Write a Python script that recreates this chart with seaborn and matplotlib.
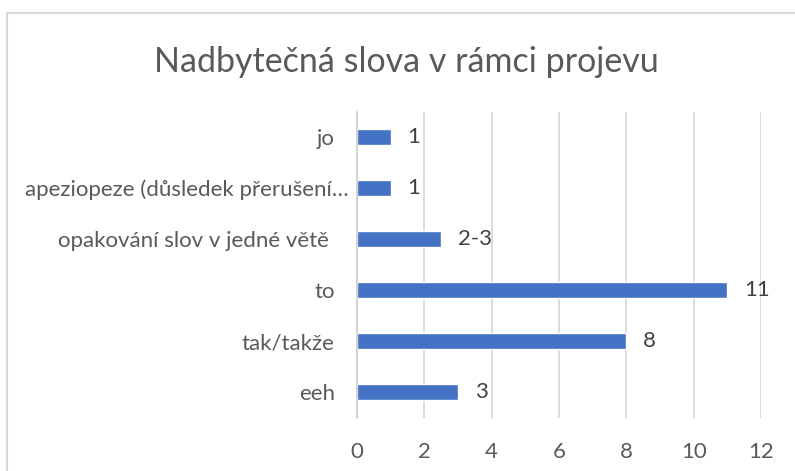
import matplotlib.pyplot as plt
import matplotlib.transforms as mtransforms
import seaborn as sns
import pandas as pd
from matplotlib.patches import Rectangle

categories = ["jo", "apeziopeze (důsledek přerušení…", "opakování slov v jedné větě ",
              "to", "tak/takže", "eeh"]
values = [1, 1, 2.5, 11, 8, 3]
value_labels = ["1", "1", "2-3", "11", "8", "3"]
xticks = [0, 2, 4, 6, 8, 10, 12]

df = pd.DataFrame({"slovo": categories, "pocet": values})

sns.set_style("white")
plt.rcParams['font.family'] = ['Lato', 'DejaVu Sans']

fig = plt.figure(figsize=(7.95, 4.71), dpi=100)
ax = fig.add_axes([357 / 795, 1 - 417.5 / 471, 404 / 795, 306 / 471])

sns.barplot(data=df, x="pocet", y="slovo", color="#4472C4", width=0.31,
            saturation=1, ax=ax)

ax.set_xlim(0, 12)
ax.set_xticks(xticks)
ax.set_xticklabels([str(t) for t in xticks])
ax.grid(axis="x", color="#d9d9d9", linewidth=1.3)
ax.set_axisbelow(True)
for s in ["top", "right", "bottom"]:
    ax.spines[s].set_visible(False)
ax.spines["left"].set_color("#d0d0d0")
ax.spines["left"].set_linewidth(1.3)
ax.tick_params(axis="both", length=0, labelsize=16, labelcolor="#595959")
ax.tick_params(axis="x", pad=18)
ax.tick_params(axis="y", pad=16)
ax.set_xlabel("")
ax.set_ylabel("")

# the truncated label sits closer to the axis
for lab in ax.get_yticklabels():
    if lab.get_text().startswith("apeziopeze"):
        lab.set_transform(lab.get_transform() +
                          mtransforms.ScaledTranslation(14 / 100, 0, fig.dpi_scale_trans))

for cont in ax.containers:
    ax.bar_label(cont, labels=value_labels, padding=12, fontsize=16, color="#404040")

fig.text(406 / 795, 1 - 62 / 471, "Nadbytečná slova v rámci projevu",
         ha="center", va="center", fontsize=24.5, color="#595959")

fig.patches.append(Rectangle((7 / 795, -0.1), 1.2, 1 - 13 / 471 + 0.1,
                             transform=fig.transFigure, fill=False,
                             edgecolor="#d9d9d9", linewidth=1.5))

fig.savefig("out.png", dpi=100)
